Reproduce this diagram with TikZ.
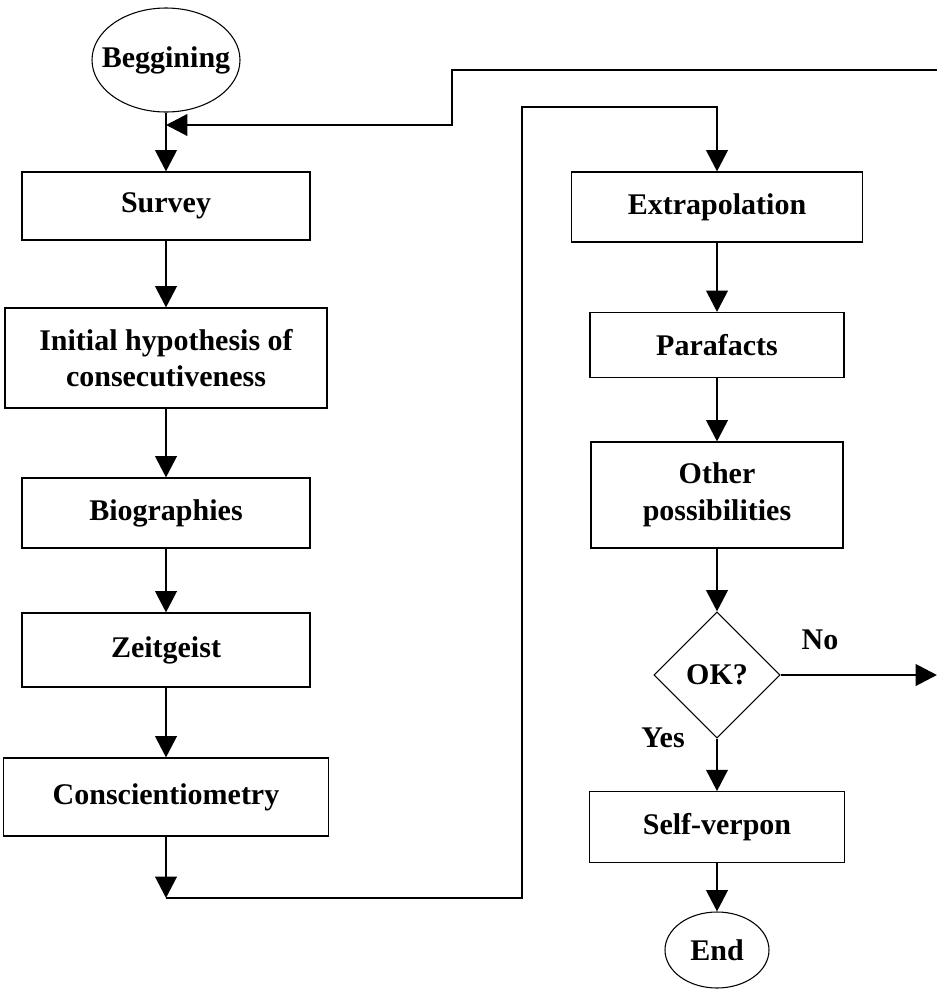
\documentclass[tikz,border=0pt]{standalone}
\usepackage{fontspec}
\setmainfont{Liberation Serif}
\usetikzlibrary{shapes.geometric,arrows.meta}
\tikzset{every node/.style={font=\fontsize{22.5}{27.5}\selectfont\bfseries, align=center},
  box/.style={draw, line width=0.8pt, inner sep=0pt},
  term/.style={ellipse, draw, line width=0.8pt, inner xsep=-12pt, inner ysep=0pt},
  test/.style={diamond, aspect=1, draw, line width=0.8pt, inner sep=0pt},
  flow/.style={line width=2.2pt, -{Triangle[length=16pt,width=16pt]}}}

\begin{document}
\begin{tikzpicture}[x=0.75pt,y=-0.75pt]
  \useasboundingbox (0,0) rectangle (937,990);
  % left column
  \node[term, minimum width=111pt, minimum height=78pt] (start) at (166,60) {Beggining};
  \node[box, minimum width=216pt, minimum height=51pt] (survey) at (166,206) {Survey};
  \node[box, minimum width=241.5pt, minimum height=75pt] (hypo) at (166,358) {Initial hypothesis of\\consecutiveness};
  \node[box, minimum width=216pt, minimum height=52.5pt] (bio) at (166,513) {Biographies};
  \node[box, minimum width=216pt, minimum height=55.5pt] (zeit) at (166,650) {Zeitgeist};
  \node[box, minimum width=243.75pt, minimum height=58.5pt] (consc) at (166,797) {Conscientiometry};
  % right column
  \node[box, minimum width=218pt, minimum height=52.5pt] (extra) at (717,207) {Extrapolation};
  \node[box, minimum width=190.5pt, minimum height=48.75pt] (para) at (717,345) {Parafacts};
  \node[box, minimum width=189pt, minimum height=79.5pt] (other) at (717,495) {Other\\possibilities};
  \node[test, minimum width=94.5pt, minimum height=94.5pt] (ok) at (717,675) {OK?};
  \node[box, minimum width=191pt, minimum height=53pt] (self) at (717,827) {Self-verpon};
  \node[term, minimum width=78pt, minimum height=57pt] (end) at (717,950) {End};
  \node (nolbl) at (820,640) {No};
  \node (yeslbl) at (663,738) {Yes};

  \coordinate (merge) at (166,125);
  \coordinate (back) at (937,70);
  \coordinate (down) at (166,898);
  \coordinate (turn) at (522,107);
  \coordinate (noout) at (937,675);

  \draw[flow] (start) -- (survey);
  \draw[flow] (back) -| (452,125) -- (merge);
  \draw[flow] (survey) -- (hypo);
  \draw[flow] (hypo) -- (bio);
  \draw[flow] (bio) -- (zeit);
  \draw[flow] (zeit) -- (consc);
  \draw[flow] (consc) -- (down);
  \draw[flow] (down) -| (turn) -| (extra);
  \draw[flow] (extra) -- (para);
  \draw[flow] (para) -- (other);
  \draw[flow] (other) -- (ok);
  \draw[flow] (ok) -- (noout);
  \draw[flow] (ok) -- (self);
  \draw[flow] (self) -- (end);
\end{tikzpicture}
\end{document}
